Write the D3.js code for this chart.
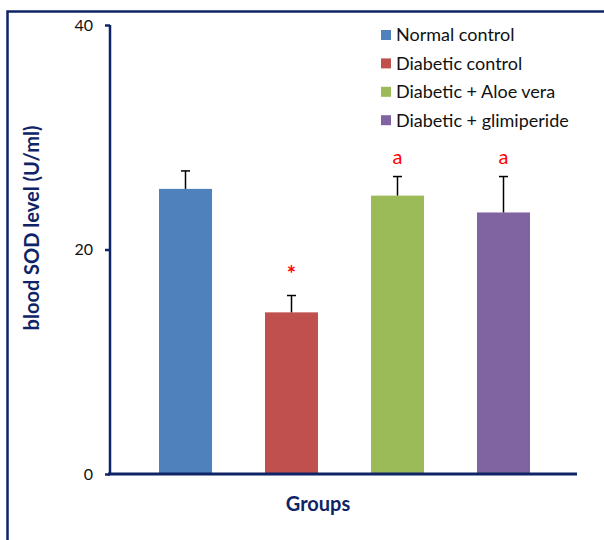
<!DOCTYPE html>
<html>
<head>
<meta charset="utf-8">
<script src="https://cdn.jsdelivr.net/npm/d3@7"></script>
<style>
  html, body { margin: 0; padding: 0; background: #fff; }
  svg { display: block; font-family: Lato, "Liberation Sans", sans-serif; }
</style>
</head>
<body>
<svg id="chart" width="604" height="540"></svg>
<script>
// Blood SOD level by treatment group (mean with upper SD bar)
const groups = ["Normal control", "Diabetic control", "Diabetic + Aloe vera", "Diabetic + glimiperide"];
const means = [25.4, 14.4, 24.8, 23.3];
const errors = [1.6, 1.5, 1.7, 3.2];
const marks = ["", "*", "a", "a"];
const colors = ["#4F81BD", "#C0504D", "#9BBB59", "#8064A2"];
const yTicks = [0, 20, 40];

const navy = "#0F2466";
const svg = d3.select("#chart");

const y = d3.scaleLinear().domain([0, 40]).range([474, 25]);
const x = d3.scaleBand().domain(groups).range([132.5, 556.5]).paddingInner(0.5).paddingOuter(0.25);

// outer frame (top and left edges)
svg.append("path")
  .attr("d", "M7.5,540 V11.5 H604")
  .attr("fill", "none").attr("stroke", navy).attr("stroke-width", 2.5);

// bars
svg.selectAll("rect.bar").data(groups).join("rect")
  .attr("class", "bar")
  .attr("x", d => x(d))
  .attr("width", x.bandwidth())
  .attr("y", (d, i) => y(means[i]))
  .attr("height", (d, i) => y(0) - y(means[i]))
  .attr("fill", (d, i) => colors[i]);

// upper error bars
const eb = svg.append("g").attr("stroke", "#000").attr("stroke-width", 1.5);
groups.forEach((g, i) => {
  const cx = x(g) + x.bandwidth() / 2;
  eb.append("line").attr("x1", cx).attr("x2", cx)
    .attr("y1", y(means[i])).attr("y2", y(means[i] + errors[i]));
  eb.append("line").attr("x1", cx - 4.5).attr("x2", cx + 4.5)
    .attr("y1", y(means[i] + errors[i])).attr("y2", y(means[i] + errors[i]));
});

// significance marks
svg.selectAll("text.sig").data(groups).join("text")
  .attr("class", "sig")
  .attr("x", d => x(d) + x.bandwidth() / 2)
  .attr("y", (d, i) => marks[i] === "*" ? y(means[i] + errors[i]) - 14 : y(means[i] + errors[i]) - 13)
  .attr("text-anchor", "middle")
  .attr("fill", "#FF0000")
  .attr("font-weight", (d, i) => marks[i] === "*" ? "bold" : "normal")
  .attr("font-size", (d, i) => marks[i] === "*" ? 22 : 20)
  .text((d, i) => marks[i]);

// y axis
const yAxis = svg.append("g").attr("transform", "translate(110,0)")
  .call(d3.axisLeft(y).tickValues(yTicks).tickSize(5).tickPadding(12).tickFormat(d3.format("d")));
yAxis.select(".domain").attr("stroke", navy).attr("stroke-width", 2.5).attr("d", "M0,474V25");
yAxis.selectAll(".tick line").attr("stroke", navy).attr("stroke-width", 2.5);
yAxis.selectAll(".tick text").attr("fill", "#111").attr("font-size", 16)
  .attr("font-family", "Lato, sans-serif");

// x axis baseline
svg.append("line").attr("x1", 108).attr("x2", 577).attr("y1", y(0)).attr("y2", y(0))
  .attr("stroke", navy).attr("stroke-width", 3);

// axis titles
svg.append("text")
  .attr("transform", "translate(39,228) rotate(-90)")
  .attr("text-anchor", "middle")
  .attr("fill", navy).attr("font-weight", "bold").attr("font-size", 20)
  .text("blood SOD level (U/ml)");
svg.append("text")
  .attr("x", 318).attr("y", 511)
  .attr("text-anchor", "middle")
  .attr("fill", navy).attr("font-weight", "bold").attr("font-size", 20)
  .text("Groups");

// legend
const lg = svg.append("g").attr("transform", "translate(381,35)");
groups.forEach((g, i) => {
  const row = lg.append("g").attr("transform", `translate(0,${i * 28.4})`);
  row.append("rect").attr("x", 0).attr("y", -5).attr("width", 10).attr("height", 10).attr("fill", colors[i]);
  row.append("text").attr("x", 15).attr("y", 0).attr("dy", "0.35em")
    .attr("font-size", 18).attr("fill", "#111").text(g);
});
</script>
</body>
</html>
